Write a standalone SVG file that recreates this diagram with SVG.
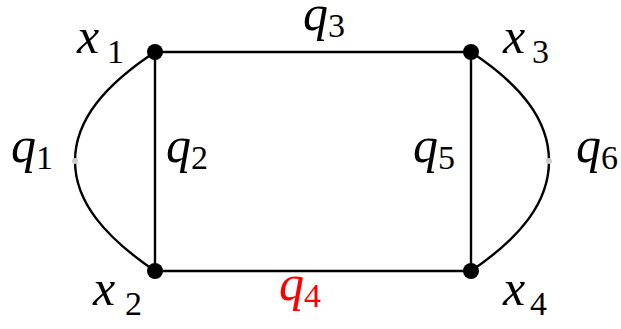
<svg xmlns="http://www.w3.org/2000/svg" width="621" height="329" viewBox="0 0 621 329">
<style>
.e{fill:none;stroke:#000;stroke-width:2.4}
.n{fill:#000}
.m{font-family:"Liberation Serif",serif;font-style:italic;font-size:50px;fill:#000}
.s{font-style:normal;font-size:34px}
.red{fill:#f00}
.dot{fill:#ccc}
</style>
<rect width="621" height="329" fill="#fff"/>
<g id="connectors">
<path class="e" d="M155,52 H471"/>
<path class="e" d="M155,271 H471"/>
<path class="e" d="M155,52 V271"/>
<path class="e" d="M471,52 V271"/>
<path class="e" d="M155,52 C105,85 75,120 75,161 C75,202 105,237 155,271"/>
<path class="e" d="M471,52 C521,85 549,120 549,161 C549,202 521,237 471,271"/>
<circle class="dot" cx="75" cy="161" r="3"/>
<circle class="dot" cx="549" cy="161" r="3"/>
</g>
<g id="x1"><circle class="n" cx="155" cy="52" r="8"/><text class="m" x="77" y="53">x<tspan class="s" x="107" y="63">1</tspan></text></g>
<g id="x2"><circle class="n" cx="155" cy="271" r="8"/><text class="m" x="93" y="305">x<tspan class="s" x="125" y="315">2</tspan></text></g>
<g id="x3"><circle class="n" cx="471" cy="52" r="8"/><text class="m" x="503" y="53">x<tspan class="s" x="532" y="63">3</tspan></text></g>
<g id="x4"><circle class="n" cx="471" cy="271" r="8"/><text class="m" x="503" y="305">x<tspan class="s" x="530" y="315">4</tspan></text></g>
<g id="labels">
<text class="m" x="303" y="30">q<tspan class="s" x="328" y="37">3</tspan></text>
<text class="m" x="11" y="162">q<tspan class="s" x="36" y="169">1</tspan></text>
<text class="m" x="166" y="162">q<tspan class="s" x="191" y="169">2</tspan></text>
<text class="m" x="413" y="162">q<tspan class="s" x="438" y="169">5</tspan></text>
<text class="m" x="576" y="162">q<tspan class="s" x="601" y="169">6</tspan></text>
<text class="m red" x="279" y="300">q<tspan class="s" x="304" y="307">4</tspan></text>
</g>
</svg>
